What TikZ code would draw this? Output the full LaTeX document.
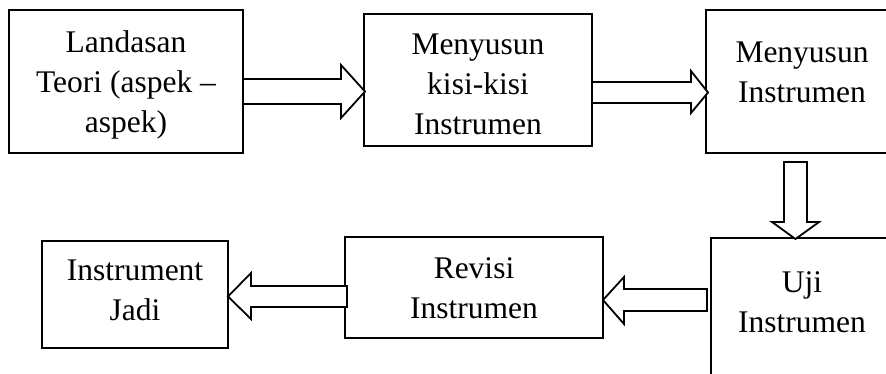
\documentclass[tikz,border=0pt]{standalone}
\usepackage{fontspec}
\setmainfont{Liberation Serif}
\begin{document}
\begin{tikzpicture}[x=1pt,y=-1pt,
  boxstyle/.style={draw=black, line width=1.8pt, fill=white, inner sep=0pt, outer sep=0pt},
  lbl/.style={align=center, font=\fontsize{31.5}{40}\selectfont, inner sep=0pt},
  barrow/.style={draw=black, line width=1.8pt, fill=white, line join=miter}]
\useasboundingbox (0,0) rectangle (886,373);
\clip (0,0) rectangle (886,373);
% boxes
\node[boxstyle, minimum width=234pt, minimum height=143pt] (b1) at (126,81.5) {};
\node[boxstyle, minimum width=228pt, minimum height=132pt] (b2) at (478,80) {};
\node[boxstyle, minimum width=240pt, minimum height=143pt] (b3) at (826,81.5) {};
\node[boxstyle, minimum width=240pt, minimum height=200pt] (b4) at (831,338) {};
\node[boxstyle, minimum width=258pt, minimum height=101pt] (b5) at (474,287.5) {};
\node[boxstyle, minimum width=186pt, minimum height=107pt] (b6) at (135,294.5) {};
% labels
\node[lbl] (t1) at (126,85) {Landasan\\Teori (aspek –\\aspek)};
\node[lbl] (t2) at (478,84) {Menyusun\\kisi-kisi\\Instrumen};
\node[lbl] (t3) at (802,72) {Menyusun\\Instrumen};
\node[lbl] (t4) at (802,302) {Uji\\Instrumen};
\node[lbl] (t5) at (474,288) {Revisi\\Instrumen};
\node[lbl] (t6) at (135,290) {Instrument\\Jadi};
% block arrows
% b1 -> b2
\draw[barrow] (243,79) -- (341,79) -- (341,65) -- (365,91.5) -- (341,118) -- (341,104) -- (243,104) -- cycle;
% b2 -> b3
\draw[barrow] (592,82) -- (691,82) -- (691,71) -- (708,92.5) -- (691,113) -- (691,103) -- (592,103) -- cycle;
% b3 -> b4
\draw[barrow] (784,162) -- (807,162) -- (807,222) -- (819,222) -- (795.5,239) -- (772,222) -- (784,222) -- cycle;
% b4 -> b5
\draw[barrow] (707,289) -- (624,289) -- (624,277) -- (603,300) -- (624,324) -- (624,311) -- (707,311) -- cycle;
% b5 -> b6
\draw[barrow] (347,286) -- (251,286) -- (251,273) -- (228,296.5) -- (251,319) -- (251,307) -- (347,307) -- cycle;
\end{tikzpicture}
\end{document}
